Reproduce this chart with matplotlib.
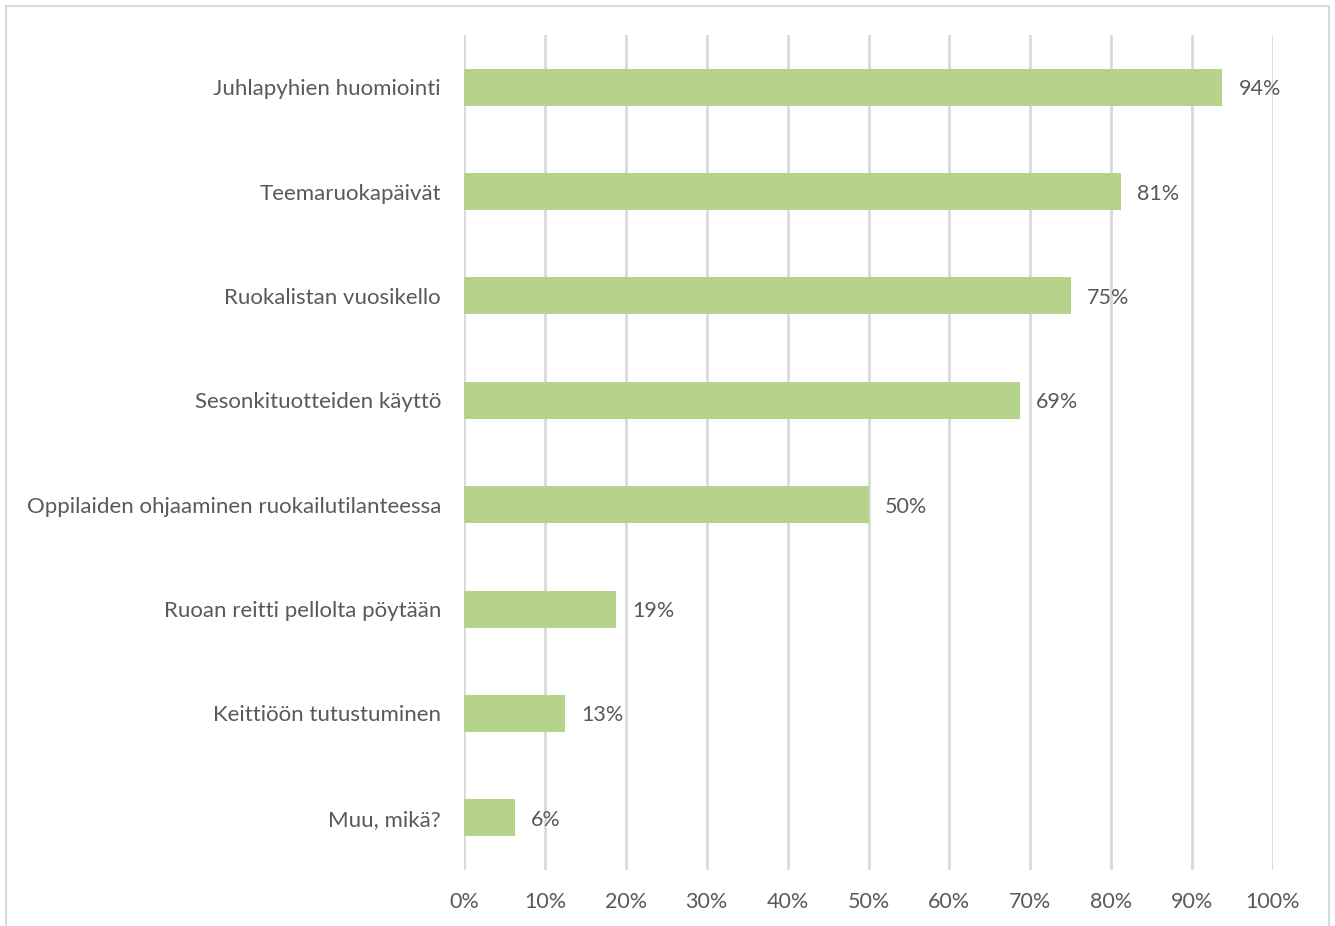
import math
import matplotlib
matplotlib.use("Agg")
import matplotlib.pyplot as plt
from matplotlib.patches import Rectangle

categories = [
    "Juhlapyhien huomiointi",
    "Teemaruokapäivät",
    "Ruokalistan vuosikello",
    "Sesonkituotteiden käyttö",
    "Oppilaiden ohjaaminen ruokailutilanteessa",
    "Ruoan reitti pellolta pöytään",
    "Keittiöön tutustuminen",
    "Muu, mikä?",
]
# share of respondents, percent
shares = [93.75, 81.25, 75.0, 68.75, 50.0, 18.75, 12.5, 6.25]
xticks = list(range(0, 101, 10))

plt.rcParams["font.family"] = ["Lato", "DejaVu Sans"]
txt = "#595959"
grid = "#d9d9d9"
green = "#b5d38b"

fig = plt.figure(figsize=(13.35, 9.26), dpi=100)
ax = fig.add_axes([464 / 1335, 1 - 870 / 926, 809 / 1335, 835 / 926])

y = list(range(len(categories)))
ax.barh(y, shares, height=0.355, color=green, zorder=3)
for yi, v in zip(y, shares):
    ax.text(v + 2.0, yi, "%d%%" % math.floor(v + 0.5), va="center_baseline",
            ha="left", fontsize=15.5, color=txt)

ax.set_xlim(0, 100)
ax.set_ylim(len(categories) - 0.5, -0.5)
ax.set_xticks(xticks)
ax.set_xticklabels(["%d%%" % t for t in xticks])
ax.set_yticks(y)
ax.set_yticklabels(categories, va="center_baseline")
ax.tick_params(axis="x", length=0, pad=15.5, labelsize=15.5, labelcolor=txt)
ax.tick_params(axis="y", length=0, pad=16.5, labelsize=16, labelcolor=txt)
ax.grid(axis="x", color=grid, linewidth=2, zorder=0)
ax.set_axisbelow(True)
for s in ax.spines.values():
    s.set_visible(False)

# light frame round the chart
fig.patches.append(Rectangle((6 / 1335, -0.01), 1323 / 1335, 1 - 6 / 926 + 0.01,
                             transform=fig.transFigure, fill=False,
                             edgecolor=grid, linewidth=1.5))

fig.savefig("out.png", dpi=100)
